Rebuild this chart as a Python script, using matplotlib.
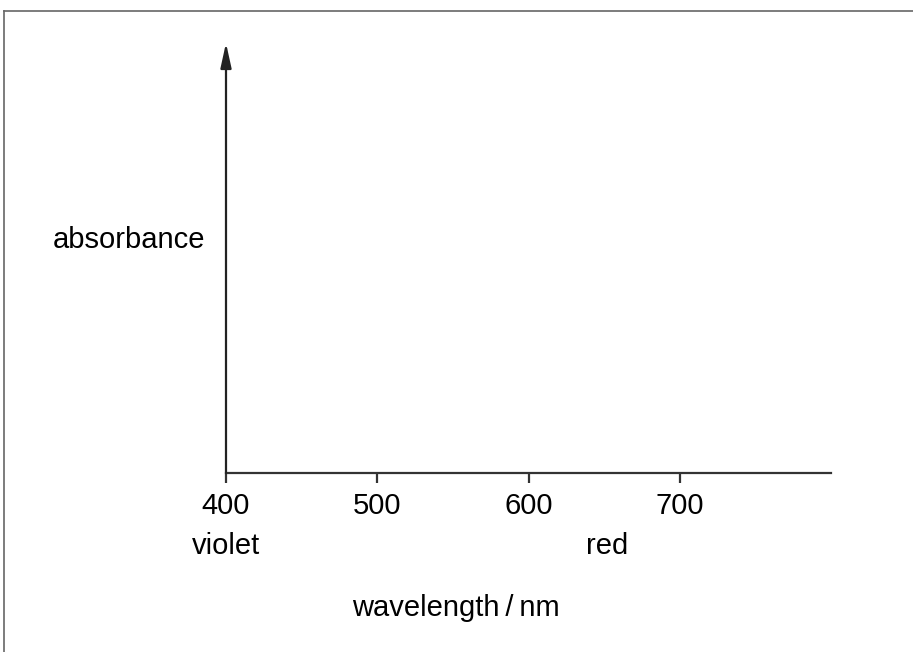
import matplotlib.pyplot as plt
from matplotlib.lines import Line2D

plt.rcParams['font.family'] = ['Liberation Sans', 'DejaVu Sans']

# axis data
x_ticks = [400, 500, 600, 700]
x_tick_labels = ['400', '500', '600', '700']
x_range = [400, 800]
colour_names = ['violet', 'red']
colour_pos = [400, 652]

W, H = 913, 652
fig = plt.figure(figsize=(W / 100, H / 100), dpi=100)

# axes placed by pixel positions
left, right, bottom, top = 226, 831, 473, 43
ax = fig.add_axes([left / W, 1 - bottom / H, (right - left) / W, (bottom - top) / H])
ax.set_xlim(x_range)
ax.set_ylim(0, 1)

for s in ['top', 'right', 'left']:
    ax.spines[s].set_visible(False)
ax.spines['bottom'].set_color('#333333')
ax.spines['bottom'].set_linewidth(1.6)

ax.set_xticks(x_ticks)
ax.set_xticklabels(x_tick_labels, fontsize=21)
ax.tick_params(axis='x', direction='out', length=7.5, width=1.6, color='#333333', pad=6)
ax.set_yticks([])

# y axis drawn as arrow
ax.annotate('', xy=(400, 1.0), xytext=(400, 0.0),
            arrowprops=dict(arrowstyle='-|>,head_length=1.5,head_width=0.33',
                            color='#222222', lw=1.6, shrinkA=0, shrinkB=0),
            annotation_clip=False)

for name, pos in zip(colour_names, colour_pos):
    ax.text(pos, -0.17, name, fontsize=21, ha='center', va='center')

ax.text(552, -0.315, 'wavelength\u2009/\u2009nm', fontsize=21, ha='center', va='center')
ax.text(-0.034, 0.542, 'absorbance', fontsize=21, ha='right', va='center',
        transform=ax.transAxes)

# frame lines at top and left
fig.add_artist(Line2D([4 / W, 1.0], [1 - 11 / H, 1 - 11 / H], color='#666666', lw=1.2))
fig.add_artist(Line2D([4 / W, 4 / W], [0.0, 1 - 11 / H], color='#666666', lw=1.2))

fig.savefig('out.png', dpi=100)
